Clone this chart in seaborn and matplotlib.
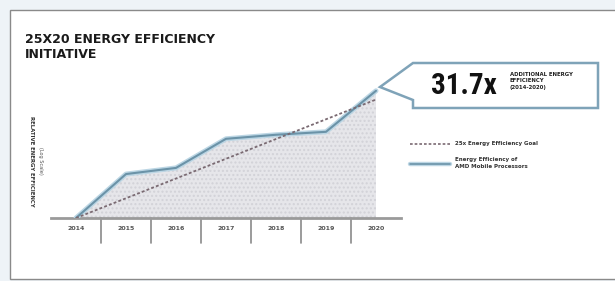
import matplotlib
matplotlib.use("Agg")
import matplotlib.pyplot as plt
from matplotlib.patches import Rectangle, Polygon
import seaborn as sns
import pandas as pd

# ---- data ----
years = [2014, 2015, 2016, 2017, 2018, 2019, 2020]
year_labels = ["2014", "2015", "2016", "2017", "2018", "2019", "2020"]
amd_efficiency = [1.0, 3.3, 3.9, 8.6, 9.6, 10.4, 31.7]
goal_years = [2014, 2020]
goal_values = [1.0, 25.0]
title_text = "25X20 ENERGY EFFICIENCY\nINITIATIVE"
ylabel_text = "RELATIVE ENERGY EFFICIENCY"
ylabel_sub = "(Log Scale)"
callout_value = "31.7x"
callout_text = "ADDITIONAL ENERGY\nEFFICIENCY\n(2014-2020)"
legend_goal = "25x Energy Efficiency Goal"
legend_amd = "Energy Efficiency of\nAMD Mobile Processors"

sns.set_theme(style="white")
plt.rcParams['font.family'] = ['DejaVu Sans']
COND = ["DejaVu Sans Condensed", "Roboto Condensed", "Liberation Sans Narrow", "DejaVu Sans"]

W, H = 615, 281
fig = plt.figure(figsize=(W / 100, H / 100), dpi=100)
fig.patch.set_facecolor("#eef3f7")

# background axes in pixel coordinates
bg = fig.add_axes([0, 0, 1, 1], facecolor="none", zorder=-10)
bg.set_axis_off()
bg.set_xlim(0, W)
bg.set_ylim(H, 0)
bg.add_patch(Rectangle((9.5, 9.5), W, 269.5, facecolor="white",
                       edgecolor="#8a8a8a", linewidth=1.0))

# axes: x from 51 to 401 px, baseline at y=218, top at y=80
ax = fig.add_axes([51 / W, 1 - 218 / H, (401 - 51) / W, (218 - 80) / H], zorder=1)
ax.set_facecolor("none")

df = pd.DataFrame({"year": years, "eff": amd_efficiency})
gdf = pd.DataFrame({"year": goal_years, "eff": goal_values})

ax.fill_between(df["year"], 1, df["eff"], facecolor="#e6e6ea", edgecolor="#d2d2d8",
                hatch="....", linewidth=0, zorder=1)
sns.lineplot(data=df, x="year", y="eff", ax=ax, color="#bcd6e4", linewidth=3.6,
             zorder=3, legend=False)
sns.lineplot(data=df, x="year", y="eff", ax=ax, color="#6b93a8", linewidth=1.5,
             zorder=4, legend=False)
sns.lineplot(data=gdf, x="year", y="eff", ax=ax, color="#7a6a72", linewidth=1.3,
             zorder=5, legend=False)
ax.lines[-1].set_dashes([1.6, 1.2])

ax.set_yscale("log")
ax.set_xlim(2013.5, 2020.5)
ax.set_ylim(1, 42.5)

for s in ["top", "right", "left"]:
    ax.spines[s].set_visible(False)
ax.spines["bottom"].set_color("#9a9a9a")
ax.spines["bottom"].set_linewidth(2.0)
ax.set_yticks([])
ax.yaxis.set_minor_locator(matplotlib.ticker.NullLocator())
ax.set_xticks(years)
ax.set_xticklabels(year_labels, fontsize=4.5, fontweight="bold", color="#555555")
ax.tick_params(axis="x", length=0, pad=6)
ax.set_xlabel("")
ax.set_ylabel("")

# separators below axis
for i in range(len(years) - 1):
    xm = (years[i] + years[i + 1]) / 2
    ax.plot([xm, xm], [0, -0.18], transform=ax.get_xaxis_transform(),
            color="#8a8a8a", linewidth=1.2, clip_on=False, zorder=2)

# overlay axes for annotations (pixel coords)
ov = fig.add_axes([0, 0, 1, 1], facecolor="none", zorder=5)
ov.set_axis_off()
ov.set_xlim(0, W)
ov.set_ylim(H, 0)

# title
ov.text(25, 33, title_text, ha="left", va="top", fontsize=9.0,
        fontweight="heavy", color="#1a1a1a", linespacing=1.15)

# y labels
ov.text(31, 161, ylabel_text, rotation=270, ha="center", va="center",
        fontsize=3.9, fontweight="bold", color="#333333")
ov.text(41, 161, ylabel_sub, rotation=270, ha="center", va="center",
        fontsize=3.6, color="#555555")

# callout box
ov.add_patch(Polygon([(413, 63), (598, 63), (598, 108), (413, 108), (413, 100), (380, 87)],
                     closed=True, facecolor="white", edgecolor="#7fa3b8", linewidth=1.8))
ov.text(464, 86, callout_value, ha="center", va="center", fontsize=21,
        fontweight="bold", color="#111111", family=COND)
ov.text(510, 81, callout_text, ha="left", va="center", fontsize=3.9,
        fontweight="bold", color="#222222", linespacing=1.25)

# legend
ov.plot([410, 450], [144, 144], color="#7a6a72", linewidth=1.2, dashes=[1.6, 1.2])
ov.plot([410, 450], [164, 164], color="#bcd6e4", linewidth=3.2)
ov.plot([410, 450], [164, 164], color="#6b93a8", linewidth=1.2)
ov.text(455, 144, legend_goal, ha="left", va="center", fontsize=4.0,
        fontweight="bold", color="#333333")
ov.text(455, 163, legend_amd, ha="left", va="center", fontsize=4.0,
        fontweight="bold", color="#333333", linespacing=1.3)

fig.savefig("out.png", dpi=100, facecolor=fig.get_facecolor())
